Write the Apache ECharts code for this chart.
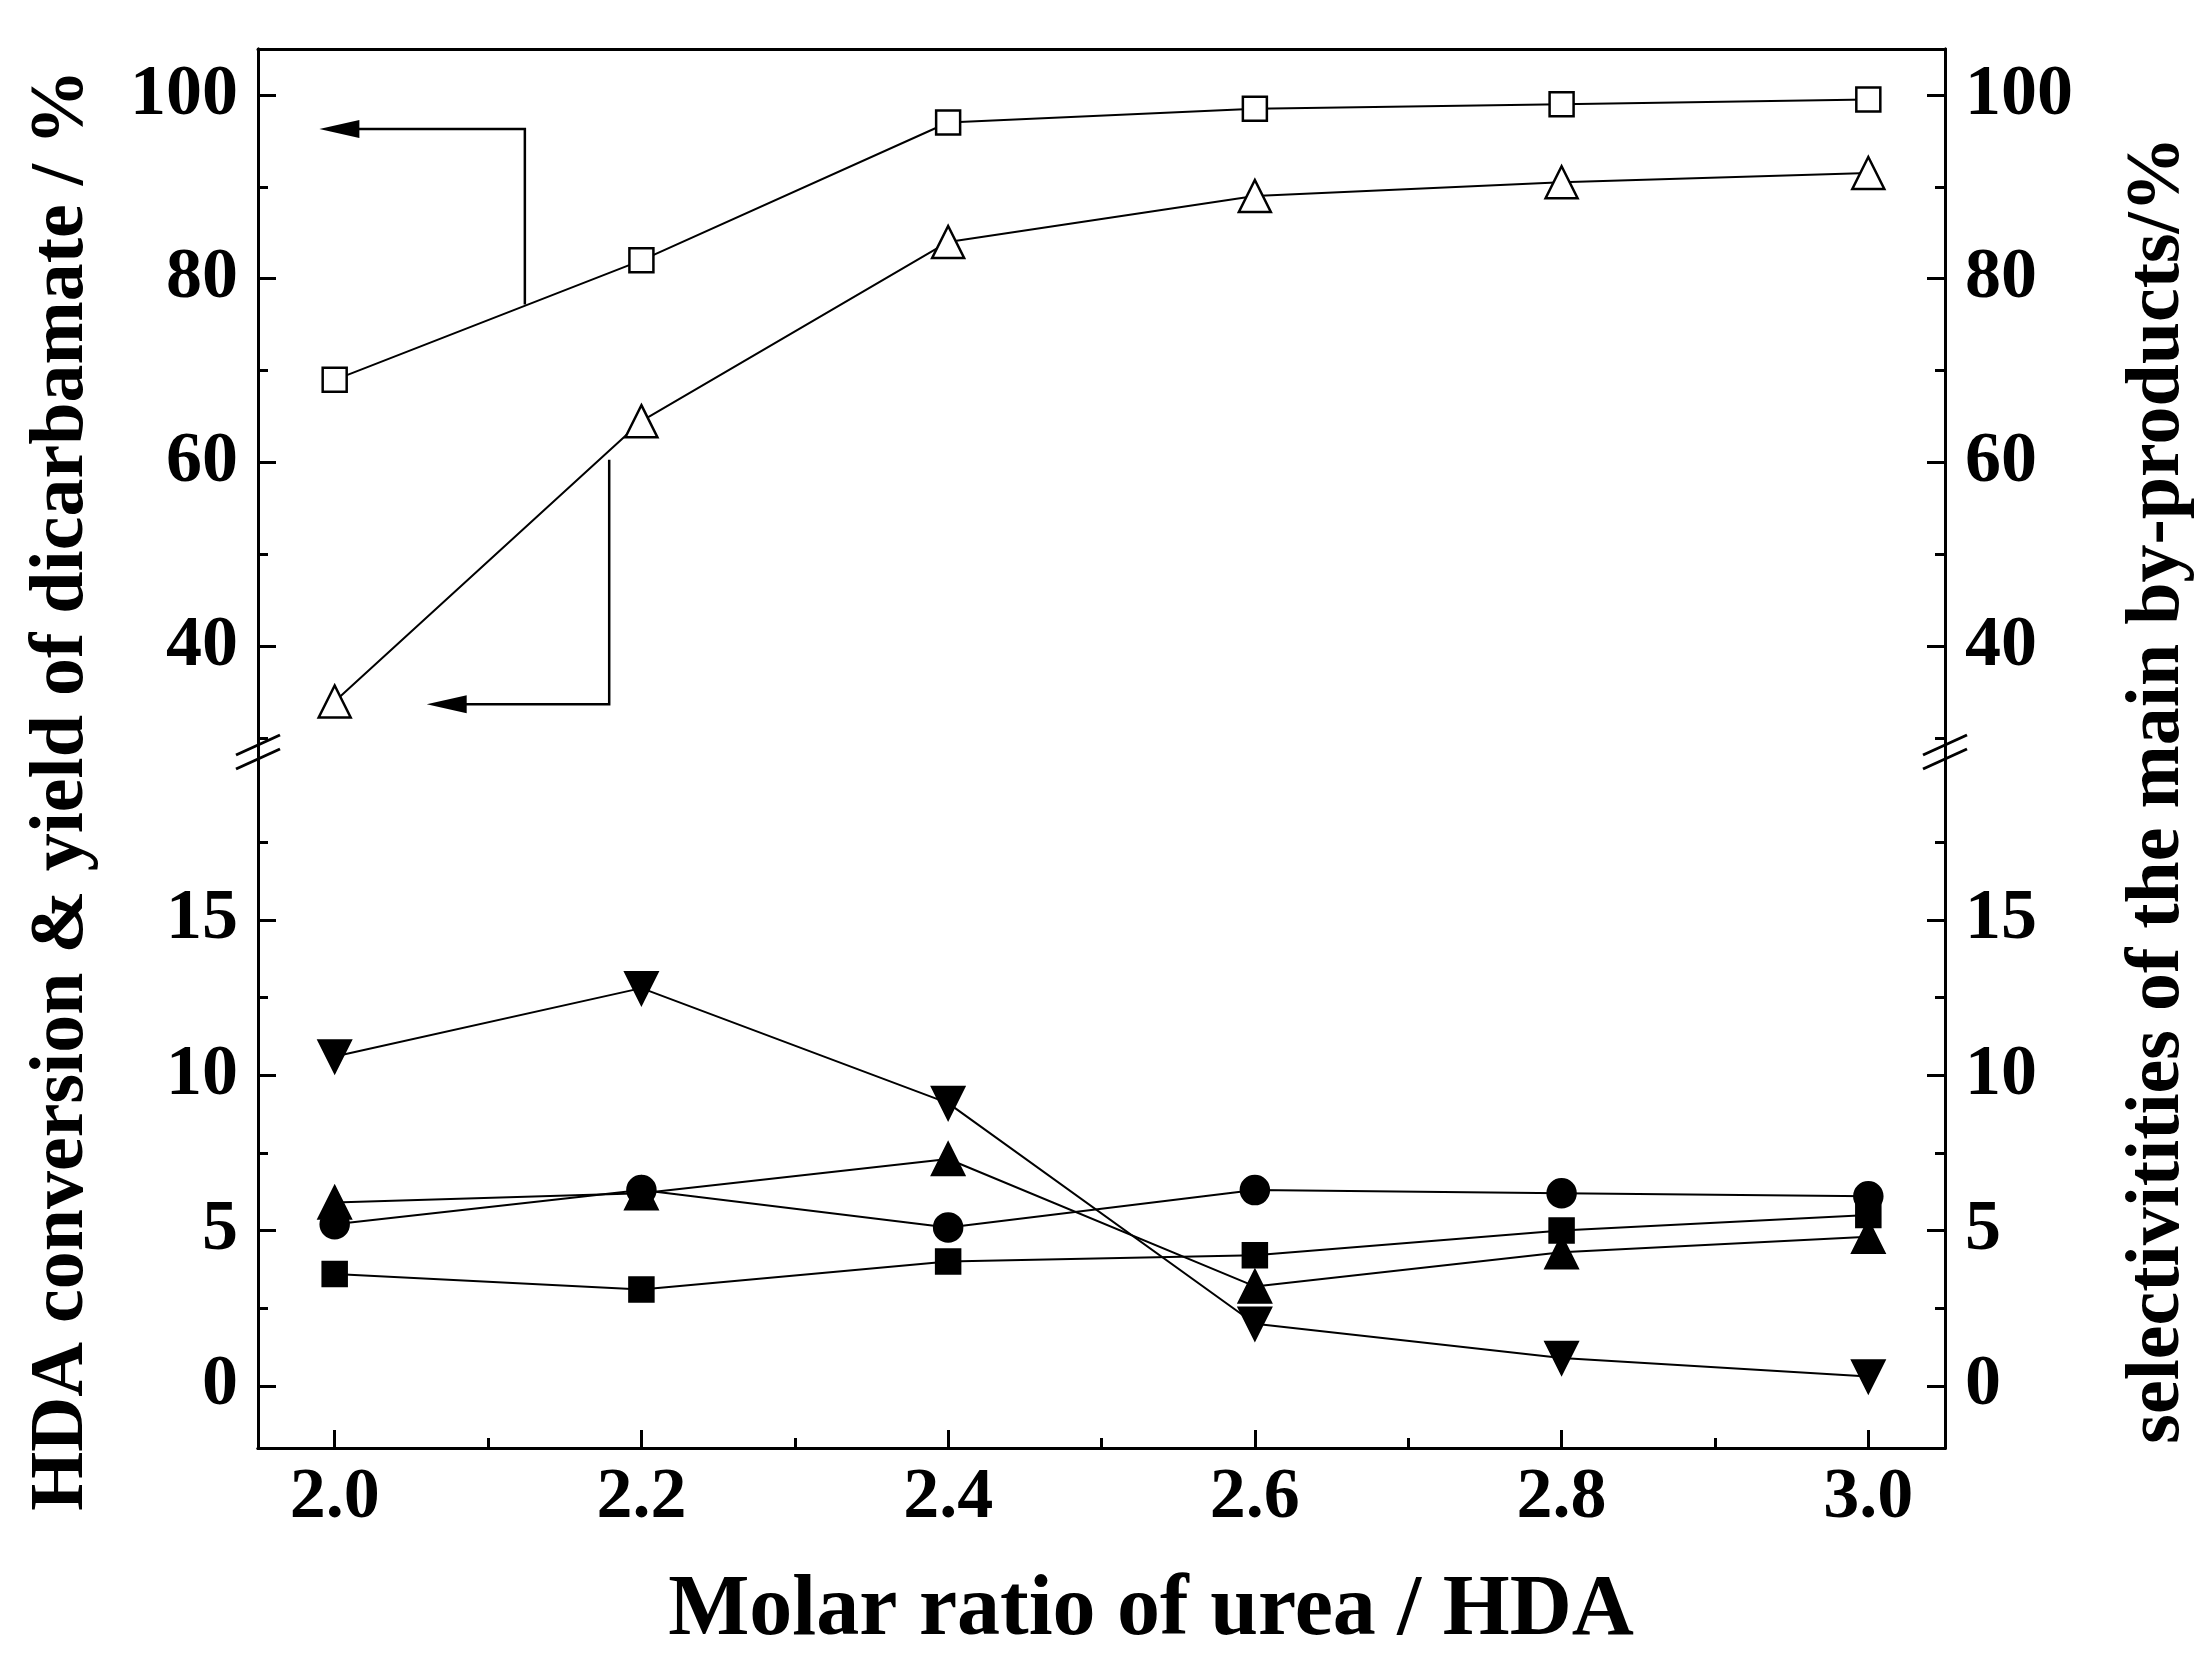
<!DOCTYPE html>
<html>
<head>
<meta charset="UTF-8">
<style>html,body{margin:0;background:#fff}#chart{width:2208px;height:1666px}</style>
<script src="https://cdn.jsdelivr.net/npm/echarts@6/dist/echarts.min.js"></script>
</head>
<body>
<div id="chart"></div>
<script>
var ratio = [2.0, 2.2, 2.4, 2.6, 2.8, 3.0];
var conversion = [69, 82, 97, 98.5, 99, 99.5];       // open squares
var yieldDicarb = [34, 64.5, 84, 89, 90.5, 91.5];    // open triangles
var byDown = [10.6, 12.8, 9.1, 2.0, 0.9, 0.3];       // filled down triangles
var byCircle = [5.2, 6.3, 5.1, 6.3, 6.2, 6.1];       // filled circles
var byUp = [5.9, 6.2, 7.3, 3.2, 4.3, 4.8];           // filled up triangles
var bySquare = [3.6, 3.1, 4.0, 4.2, 5.0, 5.5];       // filled squares

var xMajor = [2.0, 2.2, 2.4, 2.6, 2.8, 3.0];
var xMinor = [2.1, 2.3, 2.5, 2.7, 2.9];
var upMajor = [40, 60, 80, 100];
var upMinor = [30, 50, 70, 90];
var loMajor = [0, 5, 10, 15];
var loMinor = [2.5, 7.5, 12.5, 17.5];

var FONT = 'Liberation Serif';
var chart = echarts.init(document.getElementById('chart'));

function pair(x) { return ratio.map(function (r, i) { return [r, x[i]]; }); }

function yAx(grid, pos, min, max, vals, len, labels) {
  return {
    type: 'value', gridIndex: grid, position: pos, min: min, max: max,
    splitLine: { show: false },
    axisLine: { show: true, onZero: false, lineStyle: { color: '#000', width: 3 } },
    axisTick: { show: true, inside: true, length: len, customValues: vals, lineStyle: { color: '#000', width: 3 } },
    axisLabel: { show: labels, customValues: vals, color: '#000', fontFamily: FONT, fontWeight: 'bold', fontSize: 72, margin: 20 }
  };
}
function xAx(grid, pos, vals, len, labels, ticks) {
  return {
    type: 'value', gridIndex: grid, position: pos, min: 1.95, max: 3.05,
    splitLine: { show: false },
    axisLine: { show: true, onZero: false, lineStyle: { color: '#000', width: 3 } },
    axisTick: { show: ticks, inside: true, length: len, customValues: vals, lineStyle: { color: '#000', width: 3 } },
    axisLabel: { show: labels, customValues: vals, color: '#000', fontFamily: FONT, fontWeight: 'bold', fontSize: 72, margin: 14,
      formatter: function (v) { return v.toFixed(1); } }
  };
}

var UPMIN = 28.5, UPMAX = 105, LOMIN = -2, LOMAX = 20.4;
var yAxes = [
  yAx(0, 'left', UPMIN, UPMAX, upMajor, 18, true),
  yAx(0, 'right', UPMIN, UPMAX, upMajor, 18, true),
  yAx(0, 'left', UPMIN, UPMAX, upMinor, 10, false),
  yAx(0, 'right', UPMIN, UPMAX, upMinor, 10, false),
  yAx(1, 'left', LOMIN, LOMAX, loMajor, 18, true),
  yAx(1, 'right', LOMIN, LOMAX, loMajor, 18, true),
  yAx(1, 'left', LOMIN, LOMAX, loMinor, 10, false),
  yAx(1, 'right', LOMIN, LOMAX, loMinor, 10, false)
];
var xAxes = [
  xAx(0, 'top', xMajor, 18, false, false),
  xAx(1, 'bottom', xMajor, 18, true, true),
  xAx(1, 'bottom', xMinor, 10, false, true)
];

function ser(name, data, grid, symbol, filled, size) {
  return {
    name: name, type: 'line', data: pair(data),
    xAxisIndex: grid === 0 ? 0 : 1, yAxisIndex: grid === 0 ? 0 : 4,
    symbol: symbol, symbolSize: size,
    lineStyle: { color: '#000', width: 2 },
    itemStyle: { color: filled ? '#000' : '#fff', borderColor: '#000', borderWidth: 2.5 },
    z: 3
  };
}
var downTri = 'path://M0,0 L10,0 L5,9 Z';

chart.setOption({
  backgroundColor: '#fff',
  animation: false,
  grid: [
    { left: 258, right: 263, top: 49, height: 703 },
    { left: 258, right: 263, top: 752, height: 696 }
  ],
  xAxis: xAxes,
  yAxis: yAxes,
  series: [
    ser('conversion', conversion, 0, 'rect', false, 24),
    ser('yield', yieldDicarb, 0, 'triangle', false, 32),
    ser('down', byDown, 1, downTri, true, 32),
    ser('circle', byCircle, 1, 'circle', true, 28),
    ser('up', byUp, 1, 'triangle', true, 32),
    ser('square', bySquare, 1, 'rect', true, 24)
  ]
});

function px(x, y) { return chart.convertToPixel({ xAxisIndex: 0, yAxisIndex: 0 }, [x, y]); }
var a1 = [px(2.124, 77.2), px(2.124, 96.3), px(1.99, 96.3)];
var a2 = [px(2.179, 60.3), px(2.179, 33.7), px(2.06, 33.7)];
function arrow(p) {
  var e = p[2];
  return [
    { type: 'polyline', shape: { points: [p[0], p[1], [e[0] + 20, e[1]]] }, style: { stroke: '#000', lineWidth: 2.5, fill: null } },
    { type: 'polygon', shape: { points: [[e[0], e[1]], [e[0] + 40, e[1] - 9], [e[0] + 40, e[1] + 9]] }, style: { fill: '#000' } }
  ];
}
var brk = 752, L = 258, R = 2208 - 263;
function slash(x, dy) {
  return { type: 'line', shape: { x1: x - 22, y1: brk + 10 + dy, x2: x + 22, y2: brk - 10 + dy }, style: { stroke: '#000', lineWidth: 3 } };
}
function gap(x) {
  return { type: 'rect', shape: { x: x - 4, y: brk - 6, width: 8, height: 12 }, style: { fill: '#fff' } };
}
chart.setOption({
  graphic: [].concat(arrow(a1), arrow(a2), [
    gap(L), gap(R),
    slash(L, -7), slash(L, 7), slash(R, -7), slash(R, 7),
    { type: 'text', x: 1151, y: 1612, style: { text: 'Molar ratio of urea / HDA', font: 'bold 86px "Liberation Serif"', fill: '#000', align: 'center', verticalAlign: 'middle' } },
    { type: 'text', x: 62, y: 790, rotation: Math.PI / 2, style: { text: 'HDA conversion & yield of dicarbamate / %', font: 'bold 76px "Liberation Serif"', fill: '#000', align: 'center', verticalAlign: 'middle' } },
    { type: 'text', x: 2158, y: 790, rotation: Math.PI / 2, style: { text: 'selectivitities of the main by-products/%', font: 'bold 76px "Liberation Serif"', fill: '#000', align: 'center', verticalAlign: 'middle' } }
  ])
});
</script>
</body>
</html>
